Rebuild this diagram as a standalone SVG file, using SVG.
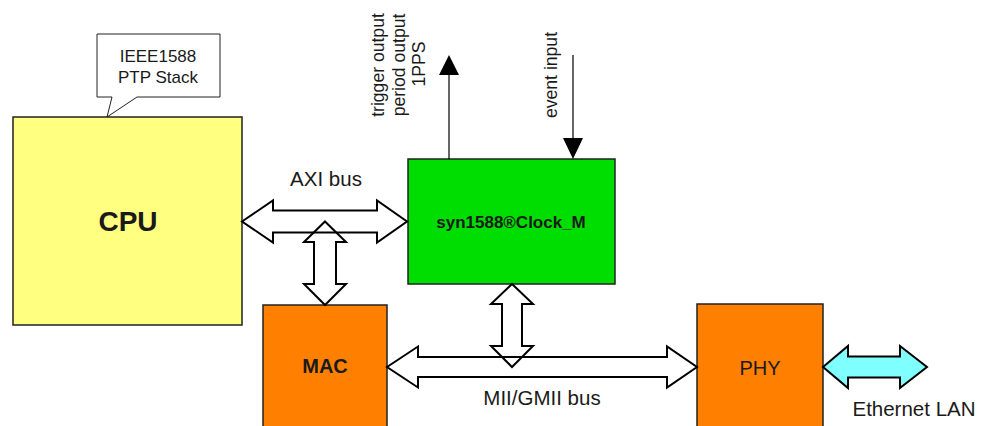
<svg xmlns="http://www.w3.org/2000/svg" width="986" height="426" viewBox="0 0 986 426">
<style>
text{font-family:"Liberation Sans",Arial,Helvetica,sans-serif;fill:#1a1a1a}
.box{stroke:#222;stroke-width:1.5}
.lbl{font-size:20.5px;text-anchor:middle}
.sm{font-size:17px;text-anchor:middle}
.rot{font-size:17.6px;text-anchor:middle}
.bus{fill:none;stroke:#000;stroke-width:2;stroke-linejoin:miter}
.sig{stroke:#000;stroke-width:1.2}
</style>
<rect width="986" height="426" fill="#fff"/>
<g id="callout">
<path d="M97,34 H220 V97 H137 L107,117 L112,97 H97 Z" fill="#fff" stroke="#222" stroke-width="1"/>
<text class="sm" x="158" y="62">IEEE1588</text>
<text class="sm" x="158" y="83">PTP Stack</text>
</g>
<g id="cpu">
<rect class="box" x="13" y="117" width="229" height="208" fill="#FFFF80"/>
<text x="128" y="231" font-size="28" font-weight="bold" text-anchor="middle">CPU</text>
</g>
<g id="clock">
<rect class="box" x="408" y="159" width="207" height="125" fill="#00DD00"/>
<text x="511" y="228" font-size="17" font-weight="bold" text-anchor="middle">syn1588®Clock_M</text>
</g>
<g id="mac">
<rect class="box" x="263" y="305" width="124" height="130" fill="#FF8000"/>
<text x="325" y="373" font-size="20" font-weight="bold" text-anchor="middle">MAC</text>
</g>
<g id="phy">
<rect class="box" x="697" y="304" width="126" height="130" fill="#FF8000"/>
<text x="760" y="375" font-size="20" text-anchor="middle">PHY</text>
</g>
<g id="connectors">
<polygon class="bus" points="242,221.5 273,200.5 273,210.5 377,210.5 377,200.5 407,221.5 377,242.5 377,232.5 273,232.5 273,242.5"/>
<polygon class="bus" points="325,221.5 346,242 336,242 336,284 346,284 325,305 304,284 314,284 314,242 304,242"/>
<polygon class="bus" points="387,367 418,346.5 418,357 667,357 667,346.5 697,367 667,387.5 667,377 418,377 418,387.5"/>
<polygon class="bus" points="512,284 533,304 522,304 522,346 533,346 512,367 491,346 502,346 502,304 491,304"/>
<polygon points="823,367 848,346 848,356.5 900,356.5 900,346 927,367 900,388 900,377.5 848,377.5 848,388" fill="#80FFFF" stroke="#000" stroke-width="2"/>
<line class="sig" x1="449" y1="159" x2="449" y2="74"/>
<polygon points="449,55 439,75 459,75" fill="#000"/>
<line class="sig" x1="573" y1="55" x2="573" y2="140"/>
<polygon points="563,138 583,138 573,159" fill="#000"/>
</g>
<g id="labels">
<text class="lbl" x="326" y="186">AXI bus</text>
<text class="lbl" x="542" y="405">MII/GMII bus</text>
<text class="lbl" x="914" y="416">Ethernet LAN</text>
<g transform="translate(384,65) rotate(-90)"><text class="rot" x="0" y="0">trigger output</text></g>
<g transform="translate(405,65) rotate(-90)"><text class="rot" x="0" y="0">period output</text></g>
<g transform="translate(425,64) rotate(-90)"><text class="rot" x="0" y="0">1PPS</text></g>
<g transform="translate(557,75) rotate(-90)"><text class="rot" x="0" y="0">event input</text></g>
</g>
</svg>
